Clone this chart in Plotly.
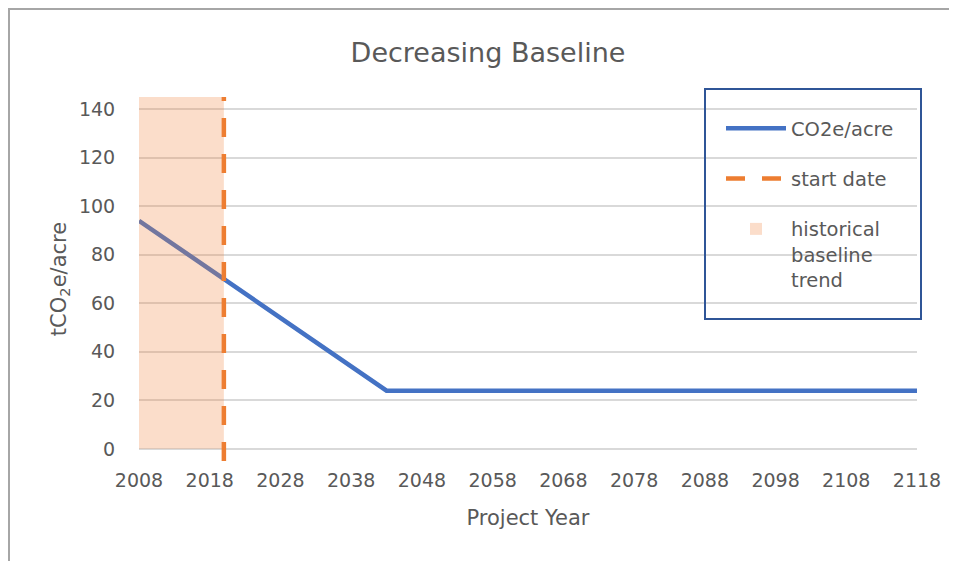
import plotly.graph_objects as go

# ---- data ----
years = list(range(2008, 2119))
baseline_start = 94
baseline_floor = 24
decline_per_year = 2
co2e_per_acre = [max(baseline_floor, baseline_start - decline_per_year * (y - 2008)) for y in years]

start_year = 2020
start_line_y = [-5, 145]
hist_start, hist_end = 2008, 2020
hist_top = 145

x_ticks = list(range(2008, 2119, 10))
y_ticks = list(range(0, 141, 20))

FONT = "DejaVu Sans"
TXT = "#595959"
XR = [2008, 2118]
YR = [-5, 145]

# page offset (browser body margin = 8px)
OFF = 8
L, R, T, B = 139, 917, 97, 461  # plot area in page px
PW, PH = R - L, B - T


def px(p):
    return (p - L) / PW


def py(p):
    return (B - p) / PH


fig = go.Figure()
fig.add_trace(go.Scatter(
    x=years, y=co2e_per_acre, mode="lines", name="CO2e/acre",
    line=dict(color="#4472C4", width=4.5), legendgroup="a"))
fig.add_trace(go.Scatter(
    x=[start_year, start_year], y=start_line_y, mode="lines", name="start date",
    line=dict(color="#ED7D31", width=4.5, dash="19px,17px"), legendgroup="b"))

fig.update_layout(
    width=957 - OFF, height=561 - OFF,
    margin=dict(l=L - OFF, r=957 - R, t=T - OFF, b=561 - B),
    paper_bgcolor="white", plot_bgcolor="white",
    font=dict(family=FONT, color=TXT, size=19),
    title=dict(text="Decreasing Baseline", x=(488 - OFF) / (957 - OFF), xref="container",
               xanchor="center", y=1 - (53 - OFF) / (561 - OFF), yref="container",
               yanchor="middle", font=dict(size=27, color=TXT, family=FONT)),
    xaxis=dict(range=XR, tickmode="array", tickvals=x_ticks,
               showgrid=False, zeroline=False, showline=False,
               ticks="outside", ticklen=2, tickcolor="rgba(0,0,0,0)",
               tickfont=dict(size=19, color=TXT),
               title=dict(text="Project Year", font=dict(size=21, color=TXT), standoff=20)),
    yaxis=dict(range=YR, tickmode="array", tickvals=y_ticks,
               showgrid=True, gridcolor="#D9D9D9", gridwidth=1.5, zeroline=False,
               showline=False, ticks="outside", ticklen=19, tickcolor="rgba(0,0,0,0)",
               tickfont=dict(size=19, color=TXT),
               title=dict(text="tCO<sub>2</sub>e/acre", font=dict(size=21, color=TXT), standoff=6)),
    legend=dict(x=px(721), y=py(109), xanchor="left", yanchor="top",
                bgcolor="rgba(0,0,0,0)", borderwidth=0,
                font=dict(size=19.5, color=TXT, family=FONT),
                tracegroupgap=22, valign="top", itemwidth=60, traceorder="grouped"),
    shapes=[
        dict(type="rect", xref="x", yref="y",
             x0=hist_start, x1=hist_end, y0=0, y1=hist_top,
             fillcolor="rgba(240,130,60,0.27)", line=dict(width=0), layer="above",
             showlegend=True, legendgroup="c", name="historical<br>baseline<br>trend"),
        dict(type="rect", xref="paper", yref="paper",
             x0=px(705), x1=px(921), y0=py(319), y1=py(89),
             line=dict(color="#2F5597", width=2), fillcolor="rgba(0,0,0,0)"),
        dict(type="line", xref="paper", yref="paper",
             x0=px(9), x1=px(9), y0=py(9), y1=py(575),
             line=dict(color="#A6A6A6", width=2)),
        dict(type="line", xref="paper", yref="paper",
             x0=px(8), x1=px(970), y0=py(9), y1=py(9),
             line=dict(color="#A6A6A6", width=2)),
    ],
)

fig.write_html("out.html")
